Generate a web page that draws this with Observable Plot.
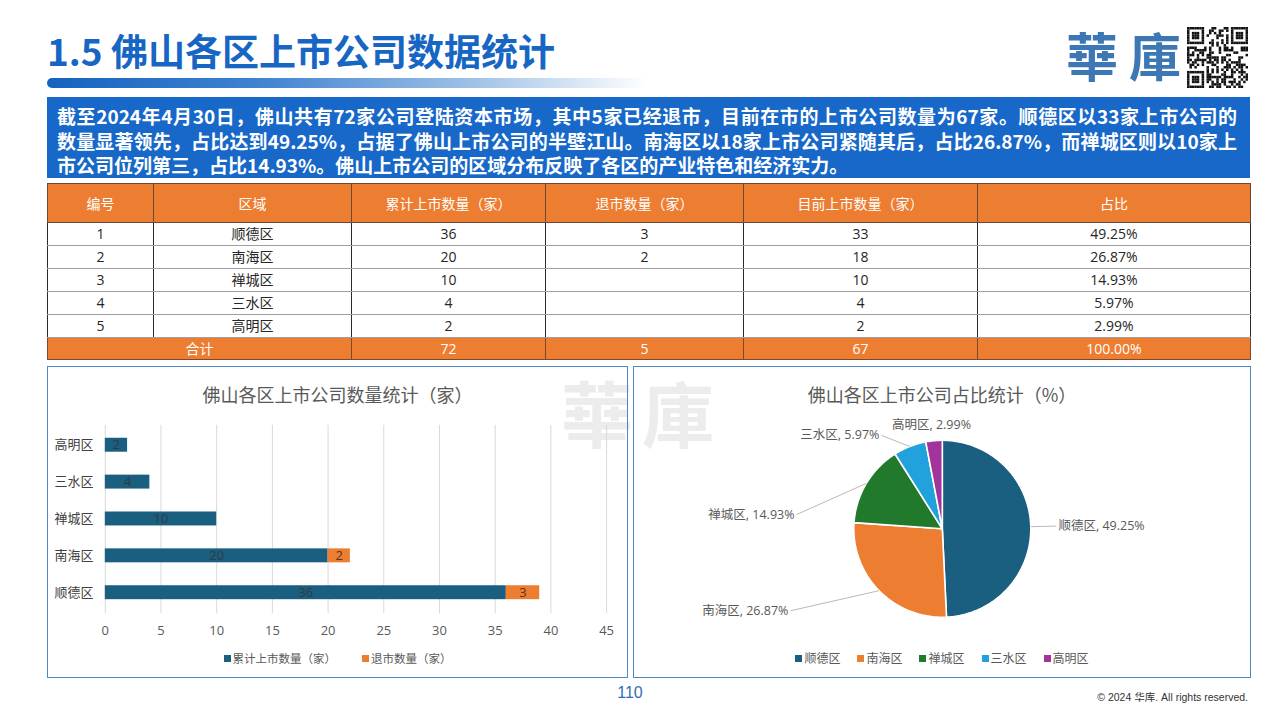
<!DOCTYPE html>
<html>
<head>
<meta charset="utf-8">
<script src="https://cdn.jsdelivr.net/npm/d3@7"></script>
<script src="https://cdn.jsdelivr.net/npm/@observablehq/plot@0.6"></script>
<style>
  body { margin: 0; background: #fff; }
  #page { position: relative; width: 1280px; height: 720px; overflow: hidden; background: #fff;
          font-family: "Noto Sans CJK SC", "Noto Sans", sans-serif; }
  .abs { position: absolute; }
  #title { left: 47px; top: 27px; font-size: 37px; line-height: 46px; font-weight: 700; color: #1766c4; white-space: nowrap; }
  #titlebar { left: 47px; top: 78px; width: 600px; height: 10px; border-radius: 5px 0 0 5px;
              background: linear-gradient(to right, #1463c0 0%, #3f82d0 35%, #9cbfe6 70%, rgba(255,255,255,0) 100%); }
  #logo { left: 1066px; top: 22px; font-size: 52px; line-height: 66px; font-weight: 700; color: #3d78b5;
          letter-spacing: 11px; font-family: "Noto Sans CJK TC", "Noto Sans CJK SC", sans-serif; white-space: nowrap; }
  #qr { left: 1187px; top: 27px; }
  #summary { left: 47px; top: 97px; width: 1203px; height: 81px; box-sizing: border-box; background: #1768c8;
             padding: 7px 13px 0 10px; color: #fff; font-weight: 700; font-size: 19px; line-height: 24.5px; }
  #summary .ln { white-space: nowrap; }
  #summary .j { text-align: justify; text-align-last: justify; }
  #tbl { left: 47px; top: 183px; width: 1203px; border-collapse: collapse; table-layout: fixed;
         font-family: "Open Sans", "Noto Sans CJK SC", sans-serif; font-size: 14px; color: #262626; }
  #tbl th { background: #ed7d31; color: #fff; font-weight: 400; height: 38px; padding: 0; border: 1px solid #6a4a34;
            font-family: "Noto Sans CJK SC", sans-serif; }
  #tbl td { height: 22px; padding: 0; text-align: center; border-left: 1px solid #2b2b2b; border-right: 1px solid #2b2b2b;
            border-bottom: 1px solid #a0a0a0; line-height: 22px; }
  #tbl tr.total td { background: #ed7d31; color: #fff; border: 1px solid #7a4a2a; height: 21px; line-height: 21px; }
  .wm { font-size: 72px; line-height: 80px; color: #ececec; font-weight: 700; width: 80px; text-align: center;
        font-family: "Noto Sans CJK TC", "Noto Sans CJK SC", sans-serif; }
  .panel { border: 1px solid #4f87c4; box-sizing: border-box; background: transparent; }
  .ctitle { left: 0; width: 100%; text-align: center; font-size: 18px; color: #595959; line-height: 24px; }
  .legend { left: 0; width: 100%; display: flex; justify-content: center; align-items: center; font-size: 11.5px;
            color: #595959; line-height: 16px; }
  .legend .it { display: flex; align-items: center; }
  .legend .sw { width: 7px; height: 7px; margin-right: 2px; }
  #footer-num { left: 600px; width: 60px; text-align: center; top: 682px; font-size: 16px; line-height: 22px; color: #2f6eb5;
                font-family: "Liberation Sans", "Noto Sans", sans-serif; }
  #copy { right: 32px; top: 689px; font-size: 10.5px; line-height: 16px; color: #333;
          font-family: "Liberation Sans", "Noto Sans CJK SC", sans-serif; white-space: nowrap; }
</style>
</head>
<body>
<div id="page">
  <div id="title" class="abs">1.5 佛山各区上市公司数据统计</div>
  <div id="titlebar" class="abs"></div>
  <div id="logo" class="abs">華庫</div>
  <svg id="qr" class="abs" width="61" height="61"></svg>
  <div id="summary" class="abs">
    <div class="ln j">截至2024年4月30日，佛山共有72家公司登陆资本市场，其中5家已经退市，目前在市的上市公司数量为67家。顺德区以33家上市公司的</div>
    <div class="ln j">数量显著领先，占比达到49.25%，占据了佛山上市公司的半壁江山。南海区以18家上市公司紧随其后，占比26.87%，而禅城区则以10家上</div>
    <div class="ln">市公司位列第三，占比14.93%。佛山上市公司的区域分布反映了各区的产业特色和经济实力。</div>
  </div>
  <table id="tbl" class="abs"></table>

  <div class="abs wm" style="left:557px; top:371px;">華</div>
  <div class="abs wm" style="left:638px; top:371px;">庫</div>

  <div id="barPanel" class="abs panel" style="left:47px; top:366px; width:581px; height:312px;">
    <div class="abs ctitle" style="top:15px;">佛山各区上市公司数量统计（家）</div>
    <div id="barChart" class="abs" style="left:0; top:0;"></div>
    <div id="barLegend" class="abs legend" style="top:283px;"></div>
  </div>

  <div id="piePanel" class="abs panel" style="left:633px; top:366px; width:618px; height:312px;">
    <div class="abs ctitle" style="top:15px;">佛山各区上市公司占比统计（%）</div>
    <div id="pieChart" class="abs" style="left:0; top:0;"></div>
    <div id="pieLegend" class="abs legend" style="top:283px; font-size:12px;"></div>
  </div>

  <div id="footer-num" class="abs">110</div>
  <div id="copy" class="abs">© 2024 华库. All rights reserved.</div>
</div>

<script>
// ---------------- DATA ----------------
const ids = [1, 2, 3, 4, 5];
const regions = ["顺德区", "南海区", "禅城区", "三水区", "高明区"];
const totalListed = [36, 20, 10, 4, 2];
const delisted = [3, 2, null, null, null];
const currentListed = [33, 18, 10, 4, 2];
const sharePct = [49.25, 26.87, 14.93, 5.97, 2.99];
const totalRow = ["合计", 72, 5, 67, "100.00%"];
const tableHeaders = ["编号", "区域", "累计上市数量（家）", "退市数量（家）", "目前上市数量（家）", "占比"];
const barSeries = ["累计上市数量（家）", "退市数量（家）"];
const xTicks = [0, 5, 10, 15, 20, 25, 30, 35, 40, 45];

// ---------------- STYLE ----------------
const barColors = ["#1a5e80", "#ed7d31"];
const pieColors = ["#1a5e80", "#ed7d31", "#217a2b", "#22a2dc", "#a2339b"];
const FONT = "'Open Sans', 'Noto Sans CJK SC', sans-serif";

// ---------------- TABLE ----------------
(function buildTable() {
  const colW = [106, 198, 194, 198, 234, 273];
  const t = document.getElementById("tbl");
  const cg = document.createElement("colgroup");
  colW.forEach(w => { const c = document.createElement("col"); c.style.width = w + "px"; cg.appendChild(c); });
  t.appendChild(cg);
  const hr = document.createElement("tr");
  tableHeaders.forEach(h => { const th = document.createElement("th"); th.textContent = h; hr.appendChild(th); });
  t.appendChild(hr);
  regions.forEach((r, i) => {
    const tr = document.createElement("tr");
    [ids[i], r, totalListed[i], delisted[i] ?? "", currentListed[i], sharePct[i].toFixed(2) + "%"].forEach(v => {
      const td = document.createElement("td"); td.textContent = v; tr.appendChild(td);
    });
    t.appendChild(tr);
  });
  const tr = document.createElement("tr"); tr.className = "total";
  totalRow.forEach((v, k) => {
    const td = document.createElement("td"); td.textContent = v;
    if (k === 0) td.colSpan = 2;
    tr.appendChild(td);
  });
  t.appendChild(tr);
})();

// ---------------- QR decoration ----------------
(function buildQR() {
  const svg = document.getElementById("qr");
  const n = 25, s = 61 / n;
  let h = 12345;
  const bit = () => { h = (h * 1103515245 + 12345) & 0x7fffffff; return (h >> 16) & 1; };
  const inFinder = (r, c) => (r < 8 && c < 8) || (r < 8 && c >= n - 8) || (r >= n - 8 && c < 8);
  let out = "";
  for (let r = 0; r < n; r++) for (let c = 0; c < n; c++) {
    let on;
    if (inFinder(r, c)) {
      const rr = r < 8 ? r : r - (n - 7), cc = c < 8 ? c : c - (n - 7);
      if (rr < 0 || cc < 0 || rr > 6 || cc > 6) on = false;
      else on = rr === 0 || rr === 6 || cc === 0 || cc === 6 || (rr >= 2 && rr <= 4 && cc >= 2 && cc <= 4);
    } else on = bit() === 1;
    if (on) out += `<rect x="${(c * s).toFixed(2)}" y="${(r * s).toFixed(2)}" width="${(s + 0.05).toFixed(2)}" height="${(s + 0.05).toFixed(2)}" fill="#111"/>`;
  }
  svg.innerHTML = out;
})();

// ---------------- BAR CHART ----------------
const barData = [];
regions.forEach((r, i) => {
  barData.push({ region: r, series: barSeries[0], value: totalListed[i] });
  barData.push({ region: r, series: barSeries[1], value: delisted[i] ?? 0 });
});
const barOrder = regions.slice().reverse();

const bar = Plot.plot({
  width: 581, height: 280,
  marginLeft: 57, marginRight: 21, marginTop: 58, marginBottom: 33,
  style: { fontFamily: FONT, fontSize: "13px", background: "transparent", overflow: "visible" },
  x: { domain: [0, 45], label: null },
  y: { domain: barOrder, paddingInner: 0.61, paddingOuter: 0.305, label: null },
  color: { domain: barSeries, range: barColors },
  marks: [
    Plot.gridX(xTicks, { stroke: "#d9d9d9", strokeOpacity: 1, strokeWidth: 1 }),
    Plot.axisX(xTicks, { tickSize: 0, tickPadding: 12, fill: "#595959", fontSize: 13, label: null }),
    Plot.axisY({ tickSize: 0, tickPadding: 12, fill: "#404040", fontSize: 13, label: null }),
    Plot.barX(barData, Plot.stackX({ x: "value", y: "region", fill: "series", z: "series", order: barSeries })),
    Plot.text(barData, Plot.stackX({
      filter: d => d.value > 0, x: "value", y: "region", z: "series", order: barSeries,
      text: d => String(d.value), fill: d => d.series === barSeries[0] ? "#2f3b42" : "#5a3525",
      fontSize: 13
    }))
  ]
});
document.getElementById("barChart").appendChild(bar);

document.getElementById("barLegend").innerHTML = barSeries.map((s, i) =>
  `<div class="it" style="margin:0 13px"><div class="sw" style="background:${barColors[i]}"></div><span>${s}</span></div>`).join("");

// ---------------- PIE CHART ----------------
const W = 616, H = 310, R = 88.5, CX = 307.8, CY = 161.3;
const arcs = d3.pie().sort(null).value(d => d)(sharePct);
const piePts = [];
arcs.forEach((a, i) => {
  const steps = Math.max(2, Math.ceil((a.endAngle - a.startAngle) / (Math.PI / 180)));
  piePts.push({ region: regions[i], x: 0, y: 0 });
  for (let k = 0; k <= steps; k++) {
    const t = a.startAngle + (a.endAngle - a.startAngle) * k / steps;
    piePts.push({ region: regions[i], x: Math.sin(t), y: Math.cos(t) });
  }
  piePts.push({ region: regions[i], x: 0, y: 0 });
});

// label layout (angle nudge in degrees from slice mid-angle, radius in pie radii)
const pieLabelLayout = [
  { nudge: 0, r: 1.29 }, { nudge: 16, r: 1.95 }, { nudge: -25.3, r: 1.655 },
  { nudge: -11.6, r: 1.26 }, { nudge: -0.6, r: 1.174 }
];
const labels = arcs.map((a, i) => {
  const mid = (a.startAngle + a.endAngle) / 2;
  const ang = mid + pieLabelLayout[i].nudge * Math.PI / 180;
  const rr = pieLabelLayout[i].r;
  const deg = (ang * 180 / Math.PI + 360) % 360;
  const anchor = deg > 20 && deg < 160 ? "start" : (deg > 200 && deg < 345 ? "end" : "middle");
  return {
    region: regions[i], text: `${regions[i]}, ${sharePct[i].toFixed(2)}%`, anchor,
    ex: Math.sin(mid), ey: Math.cos(mid),
    lx: rr * Math.sin(ang), ly: rr * Math.cos(ang)
  };
});

const pie = Plot.plot({
  width: W, height: H, margin: 0,
  style: { fontFamily: FONT, background: "transparent", overflow: "visible" },
  x: { domain: [-CX / R, (W - CX) / R], axis: null },
  y: { domain: [-(H - CY) / R, CY / R], axis: null },
  color: { domain: regions, range: pieColors },
  marks: [
    Plot.line(piePts, { x: "x", y: "y", z: "region", fill: "region", stroke: "#ffffff", strokeWidth: 1.6, curve: "linear" }),
    Plot.link(labels.filter(d => d.anchor !== "middle"), { x1: "ex", y1: "ey", x2: "lx", y2: "ly", stroke: "#a6a6a6", strokeWidth: 0.8 }),
    Plot.text(labels.filter(d => d.anchor === "start"), { x: "lx", y: "ly", text: "text", textAnchor: "start", dx: 2, fill: "#595959", fontSize: 12.5 }),
    Plot.text(labels.filter(d => d.anchor === "end"), { x: "lx", y: "ly", text: "text", textAnchor: "end", dx: -2, fill: "#595959", fontSize: 12.5 }),
    Plot.text(labels.filter(d => d.anchor === "middle"), { x: "lx", y: "ly", text: "text", textAnchor: "middle", fill: "#595959", fontSize: 12.5 })
  ]
});
document.getElementById("pieChart").appendChild(pie);

document.getElementById("pieLegend").innerHTML = regions.map((s, i) =>
  `<div class="it" style="margin:0 8.5px"><div class="sw" style="background:${pieColors[i]}"></div><span>${s}</span></div>`).join("");
</script>
</body>
</html>
